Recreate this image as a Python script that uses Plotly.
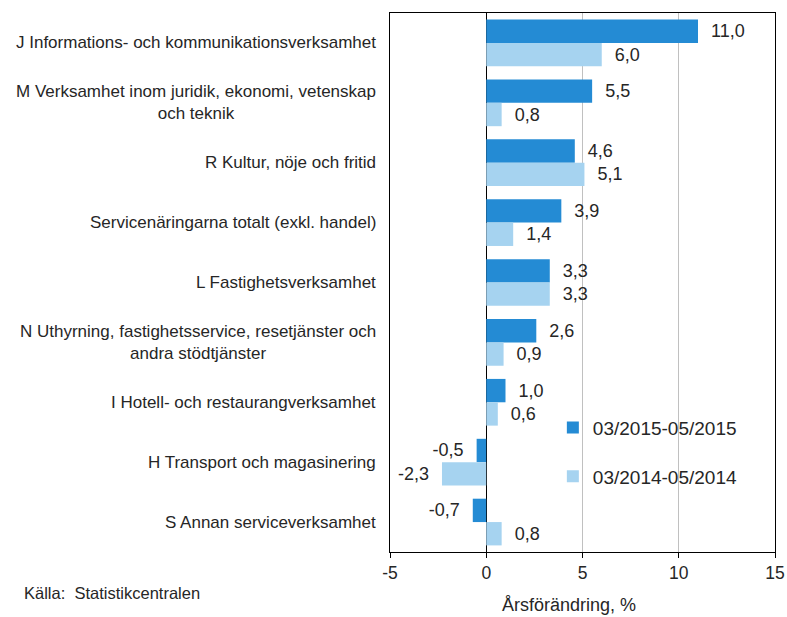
import plotly.graph_objects as go

categories = [
    "J Informations- och kommunikationsverksamhet",
    "M Verksamhet inom juridik, ekonomi, vetenskap<br>och teknik",
    "R Kultur, nöje och fritid",
    "Servicenäringarna totalt (exkl. handel)",
    "L Fastighetsverksamhet",
    "N Uthyrning, fastighetsservice, resetjänster och<br>andra stödtjänster",
    "I Hotell- och restaurangverksamhet",
    "H Transport och magasinering",
    "S Annan serviceverksamhet",
]
series_names = ["03/2015-05/2015", "03/2014-05/2014"]
values_2015 = [11.0, 5.5, 4.6, 3.9, 3.3, 2.6, 1.0, -0.5, -0.7]
values_2014 = [6.0, 0.8, 5.1, 1.4, 3.3, 0.9, 0.6, -2.3, 0.8]
tick_vals = [-5, 0, 5, 10, 15]
tick_text = ["-5", "0", "5", "10", "15"]
colors = ["#248BD4", "#A6D3F0"]

FONT = "Liberation Sans, Arial, sans-serif"
NB = "\u00a0\u00a0"


def fmt(v):
    s = f"{v:.1f}".replace(".", ",")
    return NB + s if v >= 0 else s + NB


fig = go.Figure()
for i, (name, vals) in enumerate(zip(series_names, [values_2015, values_2014])):
    fig.add_trace(go.Bar(
        y=categories, x=vals, name=name, orientation="h",
        marker=dict(color=colors[i], line=dict(width=0)),
        text=[fmt(v) for v in vals], textposition="outside",
        textfont=dict(size=18, color="#262626", family=FONT),
        constraintext="none", cliponaxis=False,
        legendgroup=f"g{i}",
    ))

for c in categories:
    fig.add_annotation(
        x=0, xref="paper", y=c, yref="y", xanchor="right", xshift=-12,
        text=c, showarrow=False, align="center",
        font=dict(size=17, color="#262626", family=FONT),
    )

fig.add_annotation(
    x=0.465, xref="paper", y=-0.098, yref="paper", xanchor="center", yanchor="middle",
    text="Årsförändring, %", showarrow=False,
    font=dict(size=18, color="#262626", family=FONT),
)
fig.add_annotation(
    x=-0.956, xref="paper", y=-0.076, yref="paper", xanchor="left", yanchor="middle",
    text="Källa:&nbsp; Statistikcentralen", showarrow=False,
    font=dict(size=16.5, color="#262626", family=FONT),
)

fig.update_layout(
    width=787, height=617,
    margin=dict(l=390, r=12, t=13, b=65),
    barmode="group", bargap=0.22, bargroupgap=0,
    plot_bgcolor="white", paper_bgcolor="white",
    font=dict(family=FONT, size=17, color="#262626"),
    showlegend=True,
    legend=dict(x=0.423, y=0.266, xanchor="left", yanchor="top",
                font=dict(size=19), tracegroupgap=21, itemwidth=30,
                bgcolor="rgba(0,0,0,0)"),
    xaxis=dict(range=[-5, 15], tickvals=tick_vals, ticktext=tick_text,
               showline=True, linecolor="black", linewidth=1, mirror=True,
               ticks="outside", ticklen=5, tickcolor="black",
               showgrid=True, gridcolor="#C0C0C0", gridwidth=1,
               zeroline=True, zerolinecolor="black", zerolinewidth=1,
               tickfont=dict(size=17.5), fixedrange=True, automargin=False),
    yaxis=dict(categoryorder="array", categoryarray=categories, autorange="reversed",
               showticklabels=False, showline=True, linecolor="black", mirror=True,
               showgrid=False, ticks="", automargin=False, fixedrange=True),
)

fig.write_html(
    "out.html",
    config={"displayModeBar": False},
    post_script="document.body.style.margin='0';document.body.style.overflow='hidden';",
)
